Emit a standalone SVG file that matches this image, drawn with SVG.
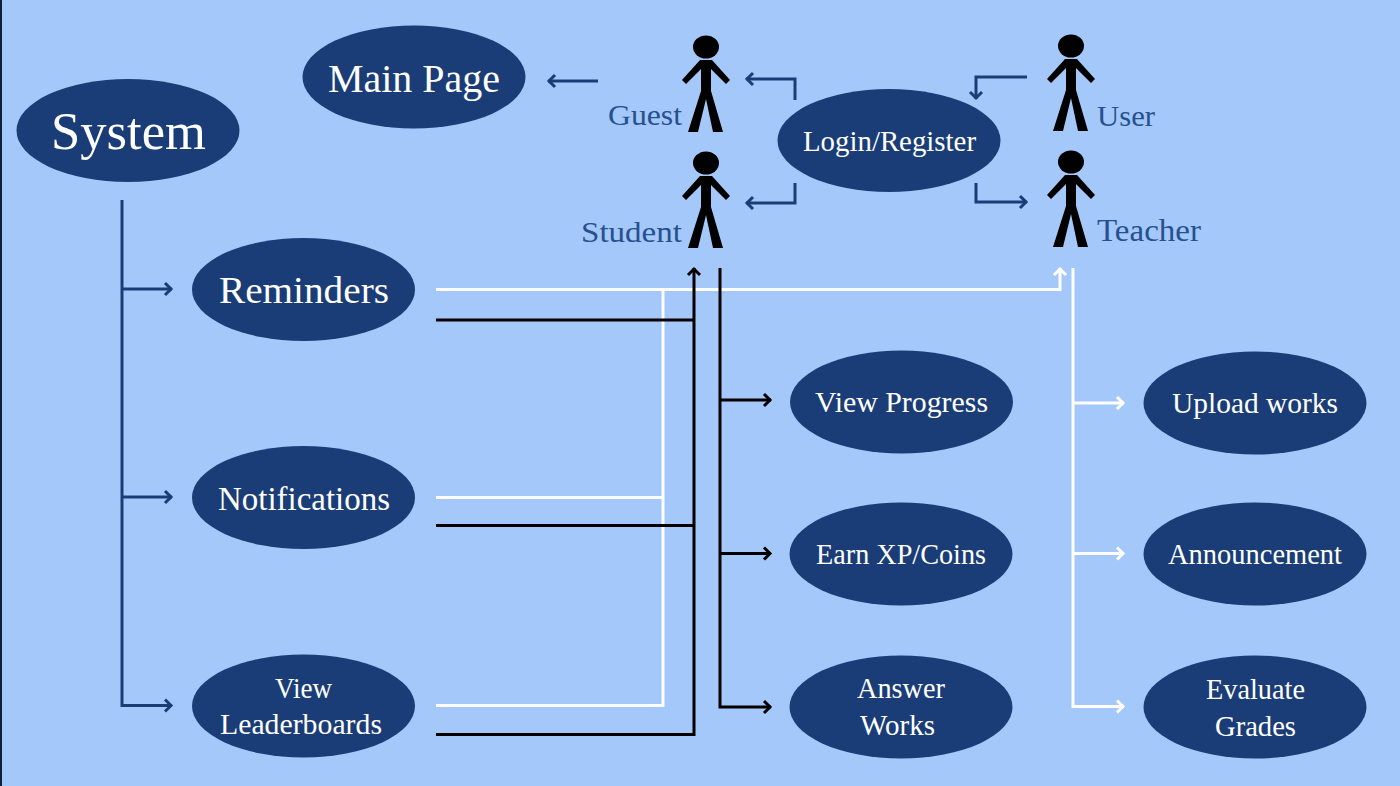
<svg xmlns="http://www.w3.org/2000/svg" xmlns:xlink="http://www.w3.org/1999/xlink" width="1400" height="786" viewBox="0 0 1400 786">
<style>
.n{fill:#1a3d78}
text{font-family:"Liberation Serif","DejaVu Serif",serif;text-anchor:start}
.w{fill:#fff}
.b{fill:#27508f}
.c{fill:none;stroke-width:3}
.navy{stroke:#1a3d78}
.white{stroke:#fff}
.black{stroke:#000}
</style>
<defs>
<marker id="an" markerUnits="userSpaceOnUse" markerWidth="14" markerHeight="16" refX="12" refY="8" orient="auto"><path d="M5 2 L11 8 L5 14" fill="none" stroke="#1a3d78" stroke-width="3"/></marker>
<marker id="aw" markerUnits="userSpaceOnUse" markerWidth="14" markerHeight="16" refX="12" refY="8" orient="auto"><path d="M5 2 L11 8 L5 14" fill="none" stroke="#fff" stroke-width="3"/></marker>
<marker id="ab" markerUnits="userSpaceOnUse" markerWidth="14" markerHeight="16" refX="12" refY="8" orient="auto"><path d="M5 2 L11 8 L5 14" fill="none" stroke="#000" stroke-width="3"/></marker>
<g id="fig">
<ellipse cx="0" cy="0" rx="13" ry="11.5"/>
<path d="M-6 13 H6 L24 33 L20 37 L5 22 V44 L17 85 H7 L0 52 L-8 85 H-18 L-5 44 V22 L-20 37 L-24 33 Z"/>
</g>
</defs>
<rect width="1400" height="786" fill="#a4c8f9"/>
<rect width="2" height="786" fill="#0e1f3d"/>
<g id="connectors">
<path class="c navy" d="M122 200 V705.5 H172" marker-end="url(#an)"/>
<path class="c navy" d="M122 289 H172" marker-end="url(#an)"/>
<path class="c navy" d="M122 497 H172" marker-end="url(#an)"/>
<path class="c navy" d="M598 81 H548" marker-end="url(#an)"/>
<path class="c navy" d="M795 100 V79 H746" marker-end="url(#an)"/>
<path class="c navy" d="M795 183 V203 H746" marker-end="url(#an)"/>
<path class="c navy" d="M1027 77 H976 V99" marker-end="url(#an)"/>
<path class="c navy" d="M976 183 V202 H1027" marker-end="url(#an)"/>
<path class="c white" d="M436 289.5 H1060 V268" marker-end="url(#aw)"/>
<path class="c white" d="M436 497.5 H663"/>
<path class="c white" d="M436 705.5 H663 V289"/>
<path class="c white" d="M1073 268 V706.5 H1124" marker-end="url(#aw)"/>
<path class="c white" d="M1073 403 H1124" marker-end="url(#aw)"/>
<path class="c white" d="M1073 553.5 H1124" marker-end="url(#aw)"/>
<path class="c black" d="M436 320 H694"/>
<path class="c black" d="M436 525.5 H694"/>
<path class="c black" d="M436 734.5 H694 V268" marker-end="url(#ab)"/>
<path class="c black" d="M720 268 V707 H771" marker-end="url(#ab)"/>
<path class="c black" d="M720 400 H771" marker-end="url(#ab)"/>
<path class="c black" d="M720 553.5 H771" marker-end="url(#ab)"/>
</g>
<g id="system"><ellipse class="n" cx="128" cy="130.5" rx="111.5" ry="51.5"/><text class="w" x="51" y="149" font-size="52" textLength="155" lengthAdjust="spacingAndGlyphs">System</text></g>
<g id="main-page"><ellipse class="n" cx="414" cy="77" rx="111.5" ry="51.5"/><text class="w" x="328" y="92" font-size="39" textLength="172" lengthAdjust="spacingAndGlyphs">Main Page</text></g>
<g id="login"><ellipse class="n" cx="889" cy="140.5" rx="111.5" ry="51.5"/><text class="w" x="803" y="151" font-size="29" textLength="173" lengthAdjust="spacingAndGlyphs">Login/Register</text></g>
<g id="reminders"><ellipse class="n" cx="303.5" cy="289.5" rx="111.5" ry="51.5"/><text class="w" x="219" y="303" font-size="37" textLength="170" lengthAdjust="spacingAndGlyphs">Reminders</text></g>
<g id="notifications"><ellipse class="n" cx="303.5" cy="497.5" rx="111.5" ry="51.5"/><text class="w" x="218" y="510" font-size="33" textLength="172" lengthAdjust="spacingAndGlyphs">Notifications</text></g>
<g id="leaderboards"><ellipse class="n" cx="303.5" cy="706" rx="111.5" ry="51.5"/><text class="w" x="275" y="698" font-size="29" textLength="57" lengthAdjust="spacingAndGlyphs">View</text><text class="w" x="220" y="734" font-size="29" textLength="162" lengthAdjust="spacingAndGlyphs">Leaderboards</text></g>
<g id="view-progress"><ellipse class="n" cx="901.5" cy="402" rx="111.5" ry="51.5"/><text class="w" x="815" y="412" font-size="30" textLength="173" lengthAdjust="spacingAndGlyphs">View Progress</text></g>
<g id="earn"><ellipse class="n" cx="901" cy="554" rx="111.5" ry="51.5"/><text class="w" x="816" y="564" font-size="29" textLength="170" lengthAdjust="spacingAndGlyphs">Earn XP/Coins</text></g>
<g id="answer"><ellipse class="n" cx="901" cy="707" rx="111.5" ry="51.5"/><text class="w" x="857" y="698" font-size="29" textLength="88" lengthAdjust="spacingAndGlyphs">Answer</text><text class="w" x="860" y="735" font-size="29" textLength="75" lengthAdjust="spacingAndGlyphs">Works</text></g>
<g id="upload"><ellipse class="n" cx="1255" cy="403" rx="111.5" ry="51.5"/><text class="w" x="1172" y="413" font-size="30" textLength="166" lengthAdjust="spacingAndGlyphs">Upload works</text></g>
<g id="announcement"><ellipse class="n" cx="1255" cy="554" rx="111.5" ry="51.5"/><text class="w" x="1168" y="564" font-size="29" textLength="174" lengthAdjust="spacingAndGlyphs">Announcement</text></g>
<g id="evaluate"><ellipse class="n" cx="1255" cy="707" rx="111.5" ry="51.5"/><text class="w" x="1206" y="699" font-size="29" textLength="99" lengthAdjust="spacingAndGlyphs">Evaluate</text><text class="w" x="1215" y="736" font-size="29" textLength="81" lengthAdjust="spacingAndGlyphs">Grades</text></g>
<g id="guest"><use xlink:href="#fig" href="#fig" x="706" y="47"/><text class="b" x="608" y="125" font-size="30" textLength="74" lengthAdjust="spacingAndGlyphs">Guest</text></g>
<g id="student"><use xlink:href="#fig" href="#fig" x="706" y="163"/><text class="b" x="581" y="242" font-size="30" textLength="101" lengthAdjust="spacingAndGlyphs">Student</text></g>
<g id="user"><use xlink:href="#fig" href="#fig" x="1071" y="46"/><text class="b" x="1097" y="126" font-size="30" textLength="58" lengthAdjust="spacingAndGlyphs">User</text></g>
<g id="teacher"><use xlink:href="#fig" href="#fig" x="1071" y="162"/><text class="b" x="1097" y="241" font-size="32" textLength="104" lengthAdjust="spacingAndGlyphs">Teacher</text></g>
</svg>
